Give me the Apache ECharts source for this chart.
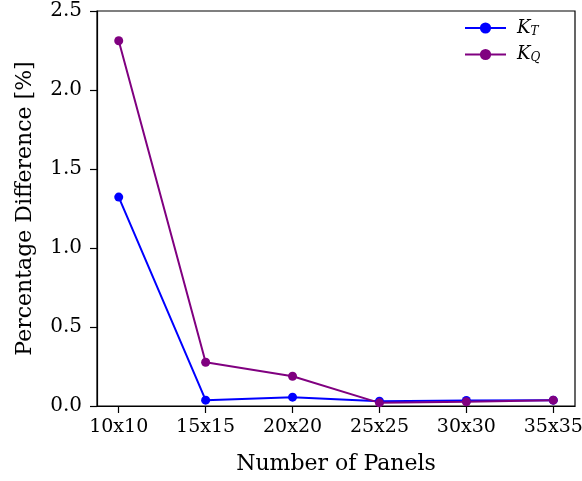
<!DOCTYPE html>
<html>
<head>
<meta charset="utf-8">
<script src="https://cdn.jsdelivr.net/npm/echarts@6/dist/echarts.min.js"></script>
<style>
  html, body { margin: 0; padding: 0; background: #fff; }
  #chart { width: 582px; height: 481px; }
</style>
</head>
<body>
<div id="chart"></div>
<script>
const categories = ['10x10', '15x15', '20x20', '25x25', '30x30', '35x35']
const kT = [1.322, 0.037, 0.056, 0.030, 0.035, 0.037]
const kQ = [2.312, 0.277, 0.188, 0.020, 0.027, 0.037]

const font = 'DejaVu Serif'
const toPoints = vals => vals.map((v, i) => [i, v])

const chart = echarts.init(document.getElementById('chart'))
chart.setOption({
  backgroundColor: '#fff',
  animation: false,
  grid: {
    left: 97,
    top: 11,
    width: 478,
    height: 395,
    outerBoundsMode: 'none',
    containLabel: false,
    show: true,
    borderColor: '#000',
    borderWidth: 1.2
  },
  legend: {
    orient: 'vertical',
    left: 459,
    top: 14,
    itemWidth: 41,
    itemHeight: 14,
    itemGap: 8,
    formatter: name => name === 'KT' ? '{k|K}{s|T}' : '{k|K}{s|Q}',
    textStyle: {
      rich: {
        k: { fontFamily: font, fontStyle: 'italic', fontSize: 18, color: '#000', padding: [0, 0, 0, 6] },
        s: { fontFamily: font, fontStyle: 'italic', fontSize: 12, color: '#000', verticalAlign: 'bottom', padding: [7, 0, 0, 0] }
      }
    }
  },
  xAxis: {
    type: 'value',
    min: -0.25,
    max: 5.25,
    name: 'Number of Panels',
    nameLocation: 'middle',
    nameGap: 47,
    nameTextStyle: { fontFamily: font, fontSize: 22, color: '#000' },
    axisLine: { show: true, onZero: false, lineStyle: { color: '#000', width: 1.2 } },
    axisTick: { show: true, length: 7, lineStyle: { color: '#000', width: 1.2 }, customValues: categories.map((c, i) => i) },
    axisLabel: {
      fontFamily: font,
      fontSize: 19,
      color: '#000',
      margin: 12,
      customValues: categories.map((c, i) => i),
      formatter: v => categories[Math.round(v)]
    },
    splitLine: { show: false }
  },
  yAxis: {
    type: 'value',
    min: 0,
    max: 2.5,
    interval: 0.5,
    name: 'Percentage Difference [%]',
    nameLocation: 'middle',
    nameGap: 61,
    nameTextStyle: { fontFamily: font, fontSize: 22, color: '#000' },
    axisLine: { show: true, onZero: false, lineStyle: { color: '#000', width: 1.2 } },
    axisTick: { show: true, length: 7, lineStyle: { color: '#000', width: 1.2 } },
    axisLabel: {
      fontFamily: font,
      fontSize: 20,
      color: '#000',
      margin: 15,
      formatter: v => v.toFixed(1)
    },
    splitLine: { show: false }
  },
  series: [
    {
      name: 'KT',
      type: 'line',
      data: toPoints(kT),
      symbol: 'circle',
      symbolSize: 9,
      color: '#0000ff',
      lineStyle: { width: 2, color: '#0000ff' },
      itemStyle: { color: '#0000ff' }
    },
    {
      name: 'KQ',
      type: 'line',
      data: toPoints(kQ),
      symbol: 'circle',
      symbolSize: 9,
      color: '#800080',
      lineStyle: { width: 2, color: '#800080' },
      itemStyle: { color: '#800080' }
    }
  ]
})
</script>
</body>
</html>
